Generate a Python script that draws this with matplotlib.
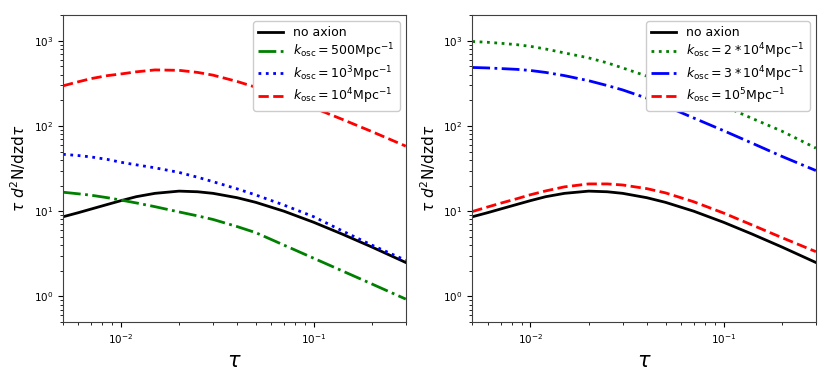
import numpy as np
import matplotlib
matplotlib.use("Agg")
import matplotlib.pyplot as plt

tau = [0.005, 0.006, 0.007, 0.0085, 0.01, 0.012, 0.015, 0.02, 0.025, 0.03,
       0.04, 0.05, 0.07, 0.1, 0.14, 0.2, 0.3]

no_axion = [8.6, 9.6, 10.6, 12.0, 13.3, 14.8, 16.2, 17.2, 16.9, 16.2,
            14.4, 12.7, 10.0, 7.4, 5.4, 3.8, 2.5]

# left panel
k500 = [16.7, 16.0, 15.4, 14.4, 13.5, 12.5, 11.3, 9.8, 8.8, 8.0,
        6.6, 5.6, 4.0, 2.8, 2.0, 1.4, 0.93]
k1e3 = [46.5, 45.0, 43.3, 40.5, 37.5, 35.0, 32.3, 28.5, 25.0, 22.2,
        18.3, 15.5, 11.8, 8.6, 5.9, 4.0, 2.65]
k1e4 = [296, 330, 360, 390, 408, 432, 455, 450, 425, 395,
        333, 285, 218, 163, 120, 86, 58]

# right panel
k2e4 = [980, 960, 935, 900, 860, 800, 720, 630, 550, 480,
        385, 315, 235, 172, 123, 87, 55]
k3e4 = [486, 480, 472, 462, 448, 425, 390, 340, 298, 265,
        212, 172, 124, 88, 63, 44, 30]
k1e5 = [9.9, 11.2, 12.4, 14.0, 15.6, 17.3, 19.3, 20.9, 20.9, 20.3,
        18.4, 16.4, 12.9, 9.5, 6.9, 4.9, 3.35]

fig = plt.figure(figsize=(8.3, 3.78), dpi=100)
ax1 = fig.add_axes([0.0759, 0.148, 0.413, 0.812])
ax2 = fig.add_axes([0.569, 0.148, 0.414, 0.812])

lw = 2
ax1.plot(tau, no_axion, color='black', ls='-', lw=lw, label='no axion')
ax1.plot(tau, k500, color='green', ls='-.', lw=lw, label=r'$k_{\rm osc}=500{\rm Mpc}^{-1}$')
ax1.plot(tau, k1e3, color='blue', ls=':', lw=lw, label=r'$k_{\rm osc}=10^3{\rm Mpc}^{-1}$')
ax1.plot(tau, k1e4, color='red', ls='--', lw=lw, label=r'$k_{\rm osc}=10^4{\rm Mpc}^{-1}$')

ax2.plot(tau, no_axion, color='black', ls='-', lw=lw, label='no axion')
ax2.plot(tau, k2e4, color='green', ls=':', lw=lw, label=r'$k_{\rm osc}=2*10^4{\rm Mpc}^{-1}$')
ax2.plot(tau, k3e4, color='blue', ls='-.', lw=lw, label=r'$k_{\rm osc}=3*10^4{\rm Mpc}^{-1}$')
ax2.plot(tau, k1e5, color='red', ls='--', lw=lw, label=r'$k_{\rm osc}=10^5{\rm Mpc}^{-1}$')

for ax in (ax1, ax2):
    ax.set_xscale('log')
    ax.set_yscale('log')
    ax.set_xlim(0.005, 0.3)
    ax.set_ylim(0.5, 2000)
    ax.set_xlabel(r'$\tau$', fontsize=15)
    ax.set_ylabel(r'$\tau\ d^2$N/dzd$\tau$', fontsize=11)
    ax.tick_params(labelsize=7.5)
    for s in ax.spines.values():
        s.set_color('#404040')
    ax.legend(loc='upper right', fontsize=9, labelspacing=0.2, framealpha=1.0)

fig.savefig('out.png', dpi=100)
